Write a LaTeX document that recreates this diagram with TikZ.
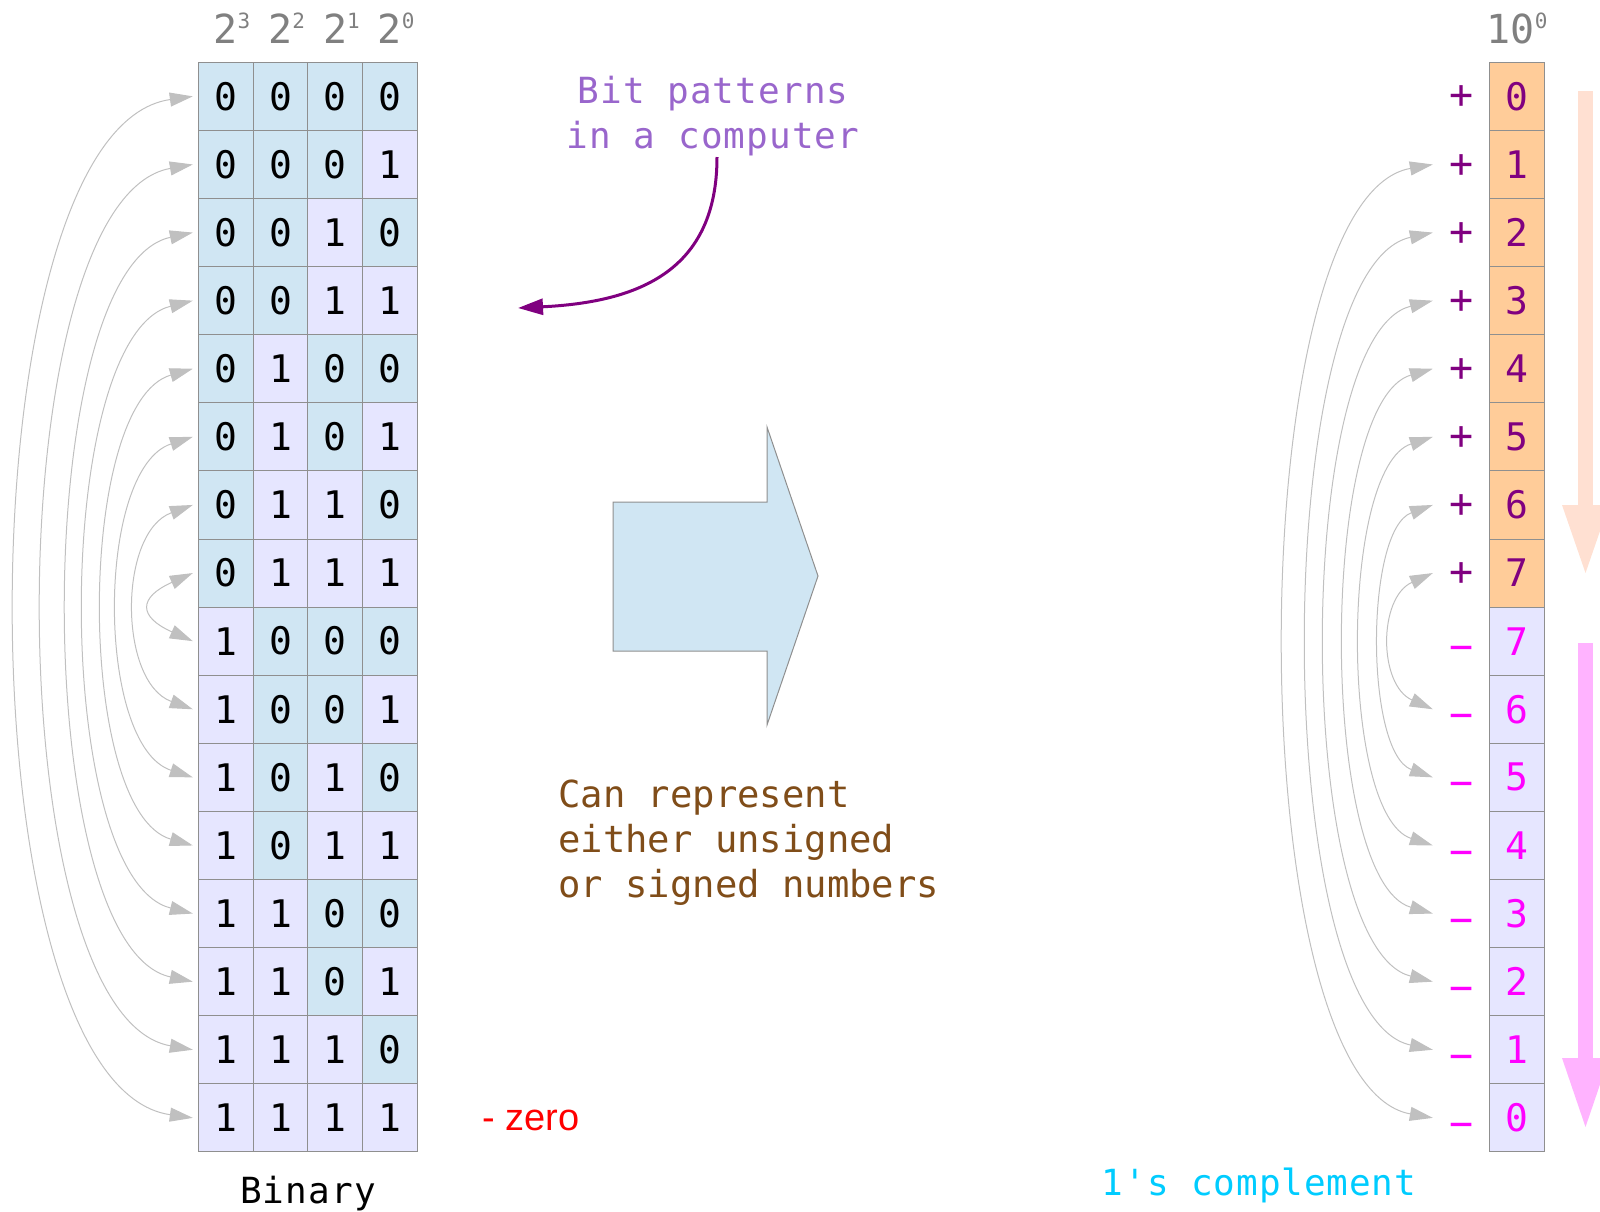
\documentclass[tikz,border=0pt]{standalone}
\usepackage{fontspec}
\usetikzlibrary{arrows.meta,calc}
\newfontfamily\dvm{DejaVu Sans Mono}
\newfontfamily\dvmbp[LetterSpace=3]{DejaVu Sans Mono}
\newfontfamily\dvmbin[LetterSpace=3]{DejaVu Sans Mono}
\newfontfamily\dvmoc[LetterSpace=2.5]{DejaVu Sans Mono}
\newfontfamily\arialf{Liberation Sans}
\definecolor{cellblue}{RGB}{208,230,243}
\definecolor{celllav}{RGB}{230,230,255}
\definecolor{cellorange}{RGB}{255,204,153}
\definecolor{gridgray}{RGB}{143,143,143}
\definecolor{hdrgray}{RGB}{128,128,128}
\definecolor{curvegray}{RGB}{192,192,192}
\definecolor{dpurple}{RGB}{128,0,128}
\definecolor{mag}{RGB}{255,0,255}
\definecolor{lpurple}{RGB}{153,102,204}
\definecolor{brownt}{RGB}{128,77,25}
\definecolor{cyant}{RGB}{0,204,255}
\definecolor{peach}{RGB}{255,224,210}
\definecolor{pinkarrow}{RGB}{255,179,255}
\begin{document}
\begin{tikzpicture}[x=0.5pt,y=-0.5pt,
  cell/.style={draw=gridgray, line width=0.5pt, minimum width=27.4pt, minimum height=34.05pt, inner sep=0pt, font=\fontsize{19pt}{19pt}\dvm},
  hdr/.style={inner sep=0pt, text=hdrgray, font=\fontsize{20pt}{20pt}\dvm, anchor=base},
  signnode/.style={inner sep=0pt, font=\fontsize{20pt}{20pt}\dvm, anchor=base},
  curvearrow/.style={draw=curvegray, line width=0.5pt, arrows={Triangle[length=11.5pt,width=7pt]-Triangle[length=11.5pt,width=7pt]}},
  purplearrow/.style={draw=dpurple, line width=1.5pt, arrows={-Triangle[length=12.5pt,width=8pt]}},
  txtline/.style={inner sep=0pt, anchor=base}
]
\path[use as bounding box] (0,0) rectangle (1600,1211);

% binary grid
\foreach \r in {0,...,15} {
  \foreach \c in {0,...,3} {
    \pgfmathtruncatemacro{\bit}{mod(floor(\r/(2^(3-\c))),2)}
    \ifnum\bit=1 \def\cf{celllav}\else\def\cf{cellblue}\fi
    \node[cell, fill=\cf] (b-\r-\c) at ({225.7+54.75*\c},{96.35+68.1*\r}) {\bit};
  }
  \coordinate (la-\r) at ($(b-\r-0.west)+(-5,0)$);
}
% headers
\foreach \c in {0,...,3} {
  \pgfmathtruncatemacro{\ex}{3-\c}
  \node[hdr] (h-\c) at ({225.7+54.75*\c},43) {2\rlap{\raisebox{7.5pt}{\fontsize{10.5pt}{10.5pt}\selectfont\ex}}};
}
\node[hdr] (h-dec) at (1517,43) {10\raisebox{7.5pt}{\fontsize{10.5pt}{10.5pt}\selectfont 0}};

% decimal column
\foreach \r in {0,...,7} {
  \node[cell, fill=cellorange, text=dpurple, minimum width=27.7pt] (d-\r) at (1517,{96.35+68.1*\r}) {\r};
  \node[signnode, text=dpurple] (s-\r) at (1462,{96.35+68.1*\r+12.6}) {+};
}
\foreach \r in {8,...,15} {
  \pgfmathtruncatemacro{\v}{15-\r}
  \node[cell, fill=celllav, text=mag, minimum width=27.7pt] (d-\r) at (1517,{96.35+68.1*\r}) {\v};
  \node[signnode, text=mag] (s-\r) at (1462,{96.35+68.1*\r+19.6}) {−};
}
\foreach \r in {0,...,15} {
  \coordinate (ra-\r) at ($(d-\r.west)+(-56,0)$);
}

% left complement curves
\foreach \k/\L/\ang in {0/18/8, 1/45/10, 2/70/12, 3/87/14, 4/105/16, 5/120/18, 6/137/20, 7/152/24} {
  \pgfmathtruncatemacro{\kk}{15-\k}
  \pgfmathsetmacro{\dd}{(193-\L)/0.75}
  \pgfmathsetmacro{\ee}{\dd*tan(\ang)}
  \draw[curvearrow] (la-\k) .. controls +(-\dd,\ee) and +(-\dd,-\ee) .. (la-\kk);
}
% right curves
\foreach \k/\L/\ang in {1/1287/10, 2/1310/12, 3/1328/14, 4/1347/16, 5/1363/18, 6/1382/20, 7/1392/24} {
  \pgfmathtruncatemacro{\kk}{16-\k}
  \pgfmathsetmacro{\dd}{(1433-\L)/0.75}
  \pgfmathsetmacro{\ee}{\dd*tan(\ang)}
  \draw[curvearrow] (ra-\k) .. controls +(-\dd,\ee) and +(-\dd,-\ee) .. (ra-\kk);
}

% big blue arrow
\draw[draw=gridgray, fill=cellblue, line width=0.5pt] (613,502) -- (767,502) -- (767,427) -- (818,576) -- (767,725) -- (767,651) -- (613,651) -- cycle;

% direction arrows on the right
\fill[peach] (1578,91) rectangle (1593,505);
\fill[peach] (1562,505) -- (1609,505) -- (1585.5,573) -- cycle;
\fill[pinkarrow] (1578,643) rectangle (1593,1058);
\fill[pinkarrow] (1562,1058) -- (1609,1058) -- (1585.5,1127) -- cycle;

% texts
\node[txtline, text=lpurple, font=\fontsize{18pt}{18pt}\dvmbp] (bp1) at (713,103) {Bit patterns};
\node[txtline, text=lpurple, font=\fontsize{18pt}{18pt}\dvmbp] (bp2) at (713,148) {in a computer};
\coordinate (pa-start) at (717,157);
\coordinate (pa-end) at (518,308);
\draw[purplearrow] (pa-start) .. controls (717,270) and (640,302) .. (pa-end);

\node[txtline, anchor=base west, text=brownt, font=\fontsize{18.6pt}{18.6pt}\dvm] (cr1) at (558,807) {Can represent};
\node[txtline, anchor=base west, text=brownt, font=\fontsize{18.6pt}{18.6pt}\dvm] (cr2) at (558,852) {either unsigned};
\node[txtline, anchor=base west, text=brownt, font=\fontsize{18.6pt}{18.6pt}\dvm] (cr3) at (558,897) {or signed numbers};

\node[txtline, font=\fontsize{18pt}{18pt}\dvmbin] (bin) at (308,1203) {Binary};
\node[txtline, text=cyant, font=\fontsize{18pt}{18pt}\dvmoc] (oc) at (1259,1195) {1's complement};
\node[txtline, anchor=base west, text=red, font=\fontsize{19pt}{19pt}\arialf] (mz) at (482,1130) {- zero};
\end{tikzpicture}
\end{document}
